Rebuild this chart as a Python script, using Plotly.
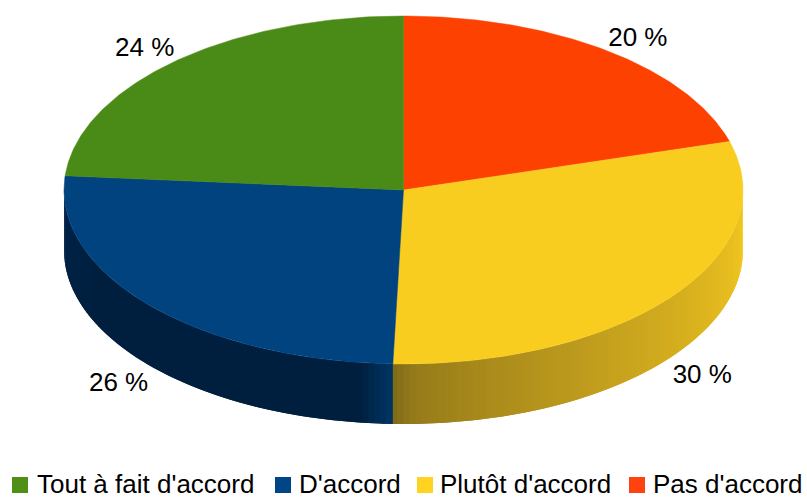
import numpy as np
import plotly.graph_objects as go

# Slices, clockwise from 12 o'clock
categories = ["Pas d'accord", "Plutôt d'accord", "D'accord", "Tout à fait d'accord"]
slice_shares = [20.5, 30.0, 25.8, 23.7]      # angular shares
slice_labels = ["20 %", "30 %", "26 %", "24 %"]
top_colors = ["#fc4100", "#f8cd20", "#00437f", "#4a8a17"]
swatch_colors = ["#ff420e", "#ffd320", "#004586", "#4e8f16"]

# Legend order, left to right
legend_order = [3, 2, 1, 0]
legend_swatch_px = [12, 275, 417, 629]
legend_text_px = [37, 299, 440, 653]

W, H = 807, 498
CX, CY, RX, RY, DEPTH = 403.5, 190, 339.5, 174, 60
LABEL_RX, LABEL_RY = 1.125, 1.11
LABEL_DROP_PX = 5
label_nudge_x_px = [5, -3, 0, 0]
label_nudge_y_px = [-1, 3, 1, -3]

# side shading stops: (angle in degrees, colour)
side_stops = [
    (90, (0xf4, 0xca, 0x20)), (115, (0xe0, 0xb7, 0x1f)), (140, (0xc8, 0xa4, 0x1e)),
    (165, (0xab, 0x8c, 0x1c)), (178, (0x96, 0x7c, 0x1a)), (181.9, (0x80, 0x6a, 0x18)),
]
side_stops_blue = [
    (181.9, (0x00, 0x36, 0x64)), (184, (0x00, 0x2e, 0x58)), (187, (0x00, 0x20, 0x40)),
    (240, (0x00, 0x1f, 0x3e)), (270, (0x00, 0x24, 0x48)),
]


def lerp(stops, t):
    ts = [s[0] for s in stops]
    return "rgb(%d,%d,%d)" % tuple(np.interp(t, ts, [s[1][i] for s in stops]) for i in range(3))


def pt(t):
    r = np.radians(t)
    return np.sin(r), np.cos(r)


fig = go.Figure()
depth = DEPTH / RY

edges = np.concatenate([[0], np.cumsum(slice_shares) * 3.6])
blue_start = edges[2]

# side wall (front half only); each strip overlaps the next to avoid seams
starts = np.r_[np.arange(90, blue_start, 1.0), blue_start, np.arange(np.ceil(blue_start), 270, 1.0)]
for a in starts:
    is_yellow = a < blue_start
    b = min(a + 2.0, 270.0)
    if is_yellow:
        b = min(b, blue_start + 0.3)
    col = lerp(side_stops if is_yellow else side_stops_blue, a + 0.5)
    arc = np.linspace(a, b, 5)
    xs, ys = pt(arc)
    fig.add_trace(go.Scatter(
        x=np.r_[xs, xs[::-1], xs[0]], y=np.r_[ys, ys[::-1] - depth, ys[0]],
        mode="lines", fill="toself", fillcolor=col, line=dict(width=0),
        hoverinfo="skip", showlegend=False))

# top wedges
for i, name in enumerate(categories):
    t = np.linspace(edges[i], edges[i + 1], 120)
    x, y = pt(t)
    fig.add_trace(go.Scatter(
        x=np.r_[0, x, 0], y=np.r_[0, y, 0], mode="lines", fill="toself",
        fillcolor=top_colors[i], line=dict(color=top_colors[i], width=0.5),
        name=name, showlegend=False, hoverinfo="name"))

# percentage labels
mids = (edges[:-1] + edges[1:]) / 2
lx, ly = pt(mids)
lx, ly = lx * LABEL_RX + np.array(label_nudge_x_px) / RX, ly * LABEL_RY
ly = np.where(ly < 0, ly - depth, ly) - (LABEL_DROP_PX + np.array(label_nudge_y_px)) / RY
fig.add_trace(go.Scatter(
    x=lx, y=ly, mode="text", text=slice_labels, textposition="middle center",
    textfont=dict(family="Liberation Sans", size=26, color="#000000"),
    showlegend=False, hoverinfo="skip"))

annotations, shapes = [], []
for k, idx in enumerate(legend_order):
    shapes.append(dict(type="rect", xref="paper", yref="paper",
                       x0=legend_swatch_px[k] / W, x1=(legend_swatch_px[k] + 16) / W,
                       y0=1 - 493 / H, y1=1 - 477 / H,
                       fillcolor=swatch_colors[idx], line=dict(width=0)))
    annotations.append(dict(xref="paper", yref="paper", x=legend_text_px[k] / W, y=1 - 483.5 / H,
                            xanchor="left", yanchor="middle", showarrow=False,
                            xshift=-2, text=categories[idx],
                            font=dict(family="Liberation Sans", size=26, color="#000000")))

fig.update_layout(
    width=W, height=H, margin=dict(l=0, r=0, t=0, b=0),
    paper_bgcolor="white", plot_bgcolor="white", showlegend=False,
    xaxis=dict(range=[-CX / RX, (W - CX) / RX], visible=False, fixedrange=True),
    yaxis=dict(range=[(CY - H) / RY, CY / RY], visible=False, fixedrange=True),
    annotations=annotations, shapes=shapes,
)
fig.write_html("out.html", config=dict(displayModeBar=False),
               post_script="document.body.style.margin='0';document.body.style.overflow='hidden';")
